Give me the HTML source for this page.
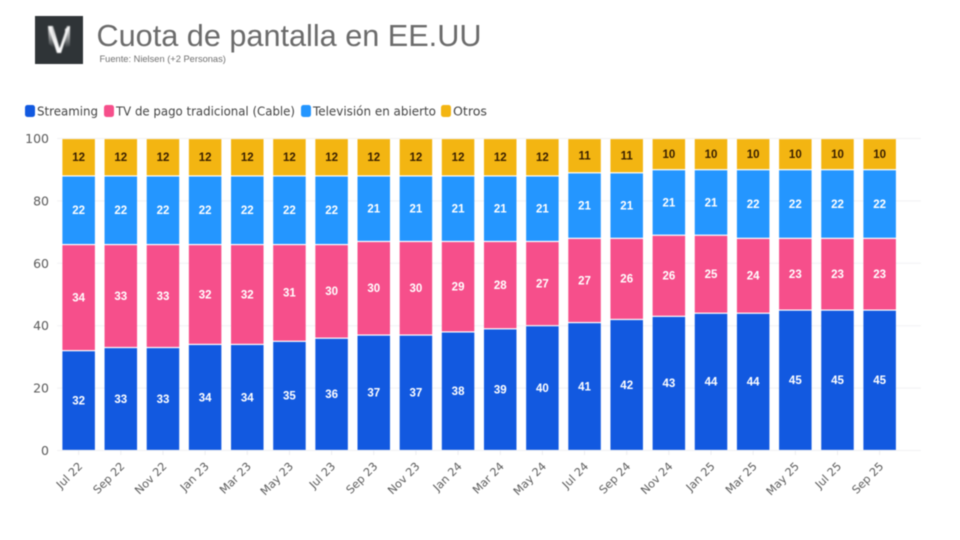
<!DOCTYPE html>
<html lang="es">
<head>
<meta charset="utf-8">
<title>Cuota de pantalla en EE.UU</title>
<style>
html,body{margin:0;padding:0;background:#fff;}
body{width:960px;height:540px;overflow:hidden;position:relative;}
svg{position:absolute;left:0;top:0;filter:blur(0.4px);}
</style>
</head>
<body>
<svg id="chart" width="960" height="540" viewBox="0 0 960 540" xmlns="http://www.w3.org/2000/svg">
  <defs>
    <linearGradient id="logoGrad" x1="0" y1="0" x2="0" y2="1">
      <stop offset="0" stop-color="#ffffff" stop-opacity="0.7"/>
      <stop offset="0.55" stop-color="#ffffff" stop-opacity="0.95"/>
      <stop offset="1" stop-color="#ffffff" stop-opacity="1"/>
    </linearGradient>
    <linearGradient id="logoGrad2" x1="0" y1="0" x2="0" y2="1">
      <stop offset="0" stop-color="#ffffff" stop-opacity="0.95"/>
      <stop offset="0.6" stop-color="#ffffff" stop-opacity="0.4"/>
      <stop offset="1" stop-color="#ffffff" stop-opacity="0"/>
    </linearGradient>
    <filter id="logoBlur"><feGaussianBlur stdDeviation="0.6"/></filter>
  </defs>
  <g>
    <rect x="35" y="16" width="48" height="48" fill="#2f3437"/>
    <g filter="url(#logoBlur)">
      <path d="M48 26 L53 26 L61 53 L57 53 Z" fill="url(#logoGrad)"/>
      <path d="M48 26 L52 26 L54 48 L49 44 Z" fill="url(#logoGrad2)"/>
      <path d="M67 26 L70 26 L61 53 L58 53 Z" fill="url(#logoGrad)"/>
      <path d="M65 29 L70 26 L70 46 L65 48 Z" fill="url(#logoGrad2)"/>
    </g>
  </g>
  <text x="96.5" y="46" font-family="'Liberation Sans',sans-serif" font-size="30.65" fill="#6b6b6b">Cuota de pantalla en EE.UU</text>
  <text x="99.5" y="62" font-family="'Liberation Sans',sans-serif" font-size="9.3" fill="#6f6f6f">Fuente: Nielsen (+2 Personas)</text>
  <g id="legend"></g>
  <g id="grid"></g>
  <g id="bars"></g>
  <g id="xaxis"></g>
  <g id="yaxis"></g>
</svg>
<script>
const months = ["Jul 22","Sep 22","Nov 22","Jan 23","Mar 23","May 23","Jul 23","Sep 23","Nov 23","Jan 24","Mar 24","May 24","Jul 24","Sep 24","Nov 24","Jan 25","Mar 25","May 25","Jul 25","Sep 25"];
const streaming = [32,33,33,34,34,35,36,37,37,38,39,40,41,42,43,44,44,45,45,45];
const cable = [34,33,33,32,32,31,30,30,30,29,28,27,27,26,26,25,24,23,23,23];
const broadcast = [22,22,22,22,22,22,22,21,21,21,21,21,21,21,21,21,22,22,22,22];
const others = [12,12,12,12,12,12,12,12,12,12,12,12,11,11,10,10,10,10,10,10];
const yTicks = [0,20,40,60,80,100];
const seriesNames = ["Streaming","TV de pago tradicional (Cable)","Televisión en abierto","Otros"];

const NS = "http://www.w3.org/2000/svg";
const FONT = "'DejaVu Sans','Liberation Sans',sans-serif";
const VALUE_FONT = "'Liberation Sans',sans-serif";
const seriesValues = [streaming, cable, broadcast, others];
const seriesColors = ["#1259e0","#f64f8b","#2496ff","#f3b512"];
const labelColors = ["#ffffff","#ffffff","#ffffff","#3a2000"];
const seriesKeys = ["streaming","cable","broadcast","others"];

function xScale(i){ return 62.4 + i * (863.4 - 62.4) / (months.length - 1); }
function yScale(v){ return 450.5 - v * 3.12; }
const barW = 32.5;

function make(tag, attrs, parent, text){
  const el = document.createElementNS(NS, tag);
  Object.keys(attrs).forEach(function(k){ el.setAttribute(k, attrs[k]); });
  if (text !== undefined) el.textContent = text;
  parent.appendChild(el);
  return el;
}

const gridG = document.getElementById("grid");
const yG = document.getElementById("yaxis");
yTicks.forEach(function(t){
  const line = make("line", {x1:57, x2:921, y1:yScale(t), y2:yScale(t), stroke:"#f1f1f3", "stroke-width":1}, gridG);
  
  
  const label = make("text", {x:49, y:yScale(t)+4.5, "text-anchor":"end", "font-family":FONT, "font-size":12.5, fill:"#5a5a5a"}, yG, String(t));
  
  
});

const barsG = document.getElementById("bars");
months.forEach(function(m, i){
  let base = 0;
  seriesValues.forEach(function(vals, s){
    const v = vals[i];
    const top = yScale(base + v);
    const bottom = yScale(base);
    const rect = make("rect", {x:xScale(i), y:top + 0.6, width:barW, height:bottom - top - 1.2, fill:seriesColors[s]}, barsG);
    
    
    const txt = make("text", {x:xScale(i)+barW/2, y:(top+bottom)/2+3.8, "text-anchor":"middle", "font-family":VALUE_FONT, "font-size":11.5, "font-weight":"bold", fill:labelColors[s]}, barsG, String(v));
    
    
    base += v;
  });
});

const xG = document.getElementById("xaxis");
months.forEach(function(m, i){
  const cx = xScale(i) + barW/2;
  const tick = make("line", {x1:cx, x2:cx, y1:450.5, y2:455, stroke:"#ececef", "stroke-width":1}, xG);
  
  
  const lab = make("text", {x:cx+4.5, y:467, "text-anchor":"end", "font-family":FONT, "font-size":11.2, fill:"#5c5c5c", transform:"rotate(-45 " + (cx+4.5) + " 467)"}, xG, m);
  
  
});

const legendG = document.getElementById("legend");
const legendSwatchX = [25, 104, 301, 441];
const legendWidths = [61, 179, 123, 34];
seriesNames.forEach(function(n, i){
  const sw = make("rect", {x:legendSwatchX[i], y:105, width:10, height:12, rx:2.5, fill:seriesColors[i]}, legendG);
  
  
  const t = make("text", {x:legendSwatchX[i]+12, y:115.5, "font-family":FONT, "font-size":12, fill:"#444444", textLength:legendWidths[i], lengthAdjust:"spacingAndGlyphs"}, legendG, n);
  
  
});
</script>
</body>
</html>
